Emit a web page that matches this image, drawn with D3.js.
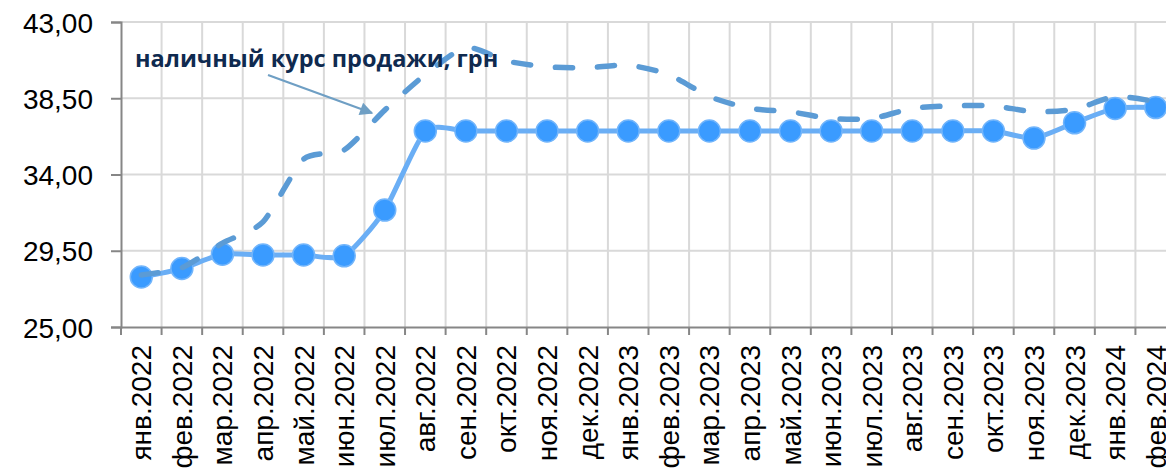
<!DOCTYPE html>
<html>
<head>
<meta charset="utf-8">
<title>Курс гривны</title>
<style>
  body { margin: 0; background: #fff; }
  svg { display: block; }
  .tick-label { font-family: "Liberation Sans", Arial, sans-serif; font-size: 28px; fill: #000; }
  .note { font-family: "Open Sans", sans-serif; font-weight: bold; font-size: 23.5px; fill: #0f2a4f; }
</style>
</head>
<body>
<div id="chart"></div>
<script src="https://cdn.jsdelivr.net/npm/d3@7"></script>
<script>
var months = ["янв.2022","фев.2022","мар.2022","апр.2022","май.2022","июн.2022","июл.2022","авг.2022",
  "сен.2022","окт.2022","ноя.2022","дек.2022","янв.2023","фев.2023","мар.2023","апр.2023","май.2023",
  "июн.2023","июл.2023","авг.2023","сен.2023","окт.2023","ноя.2023","дек.2023","янв.2024","фев.2024"];

// официальный курс (сплошная линия с маркерами)
var official = [27.95, 28.45, 29.3, 29.25, 29.25, 29.2, 31.9, 36.57, 36.57, 36.57, 36.57, 36.57, 36.57,
  36.57, 36.57, 36.57, 36.57, 36.57, 36.57, 36.57, 36.57, 36.57, 36.15, 37.05, 37.9, 37.95];

// наличный курс продажи (пунктир)
var cashSell = [28.07, 28.5, 29.95, 31.2, 34.9, 35.45, 37.8, 39.9, 41.5, 40.7, 40.35, 40.3, 40.45,
  39.9, 38.6, 37.9, 37.7, 37.3, 37.3, 37.9, 38.05, 38.05, 37.7, 37.85, 38.6, 38.3];

var yTicks = [25, 29.5, 34, 38.5, 43];
var noteText = "наличный курс продажи, грн";

var width = 1166, height = 475;
var plotLeft = 121, plotTop = 22, plotBottom = 327, plotRight = 1176;

var svg = d3.select("#chart").append("svg")
  .attr("width", width)
  .attr("height", height);

var x = d3.scaleBand().domain(months).range([plotLeft, plotRight]).padding(0);
var y = d3.scaleLinear().domain([25, 43]).range([plotBottom, plotTop]);
var cx = function(d, i){ return x(months[i]) + x.bandwidth() / 2; };

// сетка
var grid = svg.append("g");
grid.selectAll(".hg")
  .data(yTicks.slice(1))
  .enter().append("line")
  .attr("x1", plotLeft).attr("x2", plotRight)
  .attr("y1", function(d){ return y(d); })
  .attr("y2", function(d){ return y(d); })
  .style("stroke", "#d9d9d9").style("stroke-width", 2);

grid.selectAll(".vg")
  .data(months.slice(1))
  .enter().append("line")
  .attr("x1", function(d){ return x(d); })
  .attr("x2", function(d){ return x(d); })
  .attr("y1", plotTop).attr("y2", plotBottom)
  .style("stroke", "#d9d9d9").style("stroke-width", 2);

// оси
var yAxis = svg.append("g")
  .attr("transform", "translate(" + plotLeft + ",0)")
  .call(d3.axisLeft(y).tickValues(yTicks).tickSize(10).tickPadding(18)
    .tickFormat(function(d){ return d3.format(".2f")(d).replace(".", ","); }));

var xAxis = svg.append("g")
  .attr("transform", "translate(0," + plotBottom + ")")
  .call(d3.axisBottom(x).tickSize(0).tickFormat(""));

// тики на границах категорий
xAxis.selectAll(".bt")
  .data(months)
  .enter().append("line")
  .attr("x1", function(d){ return x(d); })
  .attr("x2", function(d){ return x(d); })
  .attr("y1", 0).attr("y2", 8)
  .style("stroke", "#868686").style("stroke-width", 2);

xAxis.selectAll(".lbl")
  .data(months)
  .enter().append("text")
  .attr("class", "tick-label")
  .attr("transform", function(d){
    return "translate(" + (x(d) + x.bandwidth() / 2 + 10) + ",18) rotate(-90)";
  })
  .attr("text-anchor", "end")
  .text(function(d){ return d; });

[yAxis, xAxis].forEach(function(a){
  a.select(".domain").style("stroke", "#868686").style("stroke-width", 2);
  a.selectAll(".tick line").style("stroke", "#868686").style("stroke-width", 2);
});
yAxis.selectAll(".tick text").attr("class", "tick-label").attr("dy", "0.36em");

// сплошная линия с маркерами
var smooth = d3.line()
  .x(cx)
  .y(function(d){ return y(d); })
  .curve(d3.curveCardinal.tension(0.35));

svg.append("path")
  .datum(official)
  .attr("d", smooth)
  .style("fill", "none")
  .style("stroke", "#6aaef5")
  .style("stroke-width", 5);

svg.selectAll(".dot")
  .data(official)
  .enter().append("circle")
  .attr("cx", cx)
  .attr("cy", function(d){ return y(d); })
  .attr("r", 11)
  .style("fill", "#3a9bff")
  .style("stroke", "#72b5fb")
  .style("stroke-width", 1.5);

// пунктир наличного курса
svg.append("path")
  .datum(cashSell)
  .attr("d", smooth)
  .style("fill", "none")
  .style("stroke", "#5b9bd5")
  .style("stroke-width", 5.5)
  .style("stroke-dasharray", "17 25")
  .style("stroke-linecap", "round");

// подпись со стрелкой
svg.append("defs").append("marker")
  .attr("id", "arrow")
  .attr("viewBox", "0 0 10 10")
  .attr("refX", 9).attr("refY", 5)
  .attr("markerWidth", 7).attr("markerHeight", 6)
  .attr("orient", "auto")
  .append("path")
  .attr("d", "M0,0L10,5L0,10Z")
  .style("fill", "#6f9fc4");

svg.append("line")
  .attr("x1", 268).attr("y1", 75)
  .attr("x2", 372).attr("y2", 113)
  .style("stroke", "#6f9fc4")
  .style("stroke-width", 2.2)
  .attr("marker-end", "url(#arrow)");

svg.append("text")
  .attr("class", "note")
  .attr("x", 135).attr("y", 67)
  .text(noteText);
</script>
</body>
</html>
